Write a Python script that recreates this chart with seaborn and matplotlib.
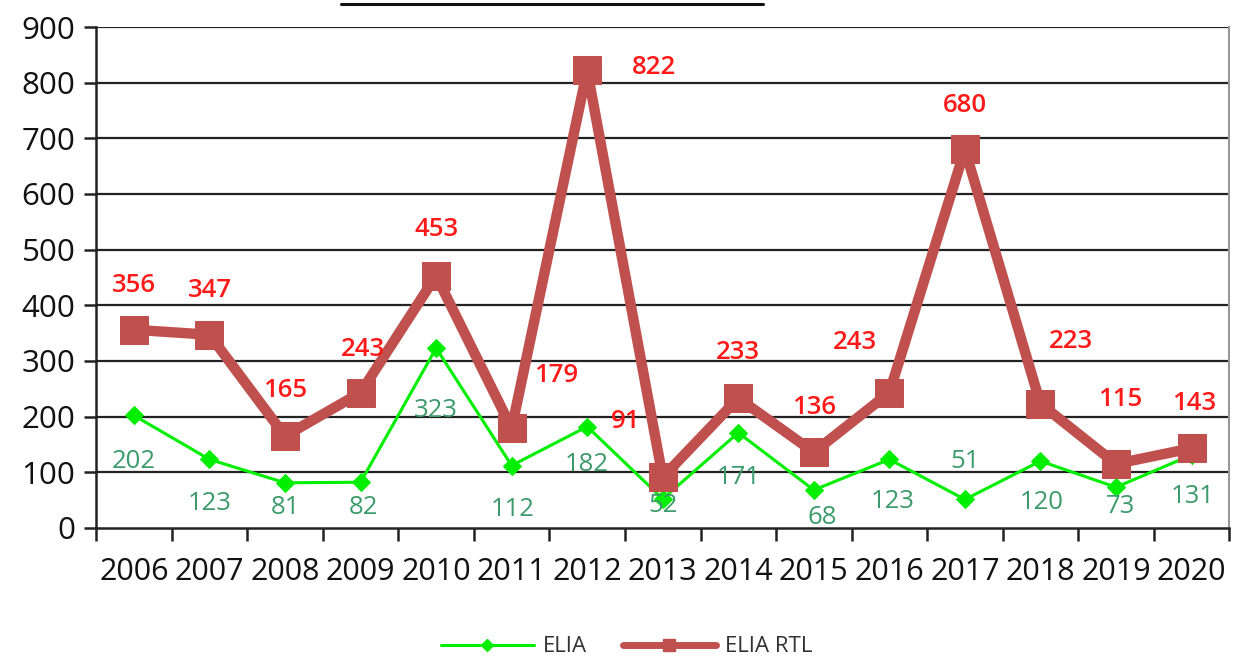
import matplotlib
matplotlib.use("Agg")
import matplotlib.pyplot as plt
import numpy as np
import pandas as pd
import seaborn as sns
from matplotlib.lines import Line2D

# ---------------------------------------------------------------------------
# Data
# ---------------------------------------------------------------------------
years = ["2006", "2007", "2008", "2009", "2010", "2011", "2012", "2013",
         "2014", "2015", "2016", "2017", "2018", "2019", "2020"]
elia = [202, 123, 81, 82, 323, 112, 182, 52, 171, 68, 123, 51, 120, 73, 131]
elia_rtl = [356, 347, 165, 243, 453, 179, 822, 91, 233, 136, 243, 680, 223, 115, 143]
y_ticks = [0, 100, 200, 300, 400, 500, 600, 700, 800, 900]

# label offsets in points (dx, dy) relative to each marker
rtl_offsets = [(0, 32), (0, 32), (0, 33), (2, 31), (0, 33), (32, 38), (48, 2),
               (-27, 40), (0, 33), (0, 32), (-25, 36), (0, 32), (22, 45),
               (3, 46), (2, 32)]
elia_offsets = [(0, -33), (0, -32), (0, -18), (2, -18), (0, -45), (1, -32),
                (0, -27), (0, -5), (0, -32), (6, -20), (2, -30), (0, 27),
                (1, -30), (3, -14), (1, -30)]

GREEN = "#00ee00"
RED_LINE = "#c0504d"
GREEN_TEXT = "#3c9a6c"

df = pd.DataFrame({"pos": np.arange(len(years)), "ELIA": elia, "ELIA RTL": elia_rtl})

sns.set_style("white")
plt.rcParams["font.family"] = ["Open Sans", "DejaVu Sans"]

fig = plt.figure(figsize=(12.33, 6.59), dpi=100)
ax = fig.add_axes([0.078, 0.199, 0.919, 0.760])

# gridlines
for v in y_ticks[1:]:
    ax.axhline(v, color="#222222", linewidth=1.6, zorder=0)

sns.lineplot(data=df, x="pos", y="ELIA", ax=ax, color=GREEN, linewidth=2.2,
             marker="D", markersize=9, markeredgecolor=GREEN,
             label="ELIA", zorder=3, legend=False)
sns.lineplot(data=df, x="pos", y="ELIA RTL", ax=ax, color=RED_LINE, linewidth=7.5,
             marker="s", markersize=19.5, markeredgecolor=RED_LINE,
             label="ELIA RTL", zorder=4, legend=False)

for i, v in enumerate(elia_rtl):
    ax.annotate(str(v), (i, v), xytext=rtl_offsets[i], textcoords="offset points",
                ha="center", va="center", color="#ff1a1a", fontsize=18.5,
                fontweight="semibold", zorder=6)
for i, v in enumerate(elia):
    ax.annotate(str(v), (i, v), xytext=elia_offsets[i], textcoords="offset points",
                ha="center", va="center", color=GREEN_TEXT, fontsize=18.5, zorder=6)

ax.set_xlim(-0.5, len(years) - 0.5)
ax.set_ylim(0, 900)
ax.set_yticks(y_ticks)
ax.set_yticklabels([str(t) for t in y_ticks], fontsize=22.5, color="#111111")
ax.set_xticks(np.arange(-0.5, len(years), 1.0))
ax.set_xticklabels([])
ax.set_xticks(np.arange(len(years)), minor=True)
ax.set_xticklabels(years, minor=True, fontsize=22, color="#111111")
ax.tick_params(axis="x", which="major", direction="out", length=9, width=1.8,
               color="#222222", bottom=True)
ax.tick_params(axis="x", which="minor", length=0, pad=21)
ax.tick_params(axis="y", direction="out", length=9, width=1.8, color="#222222",
               left=True, pad=6)
ax.set_xlabel("")
ax.set_ylabel("")

ax.spines["top"].set_visible(False)
ax.spines["left"].set_color("#222222")
ax.spines["left"].set_linewidth(1.8)
ax.spines["bottom"].set_color("#222222")
ax.spines["bottom"].set_linewidth(1.8)
ax.spines["right"].set_color("#999999")
ax.spines["right"].set_linewidth(1.5)

handles = [
    Line2D([], [], color=GREEN, linewidth=2.2, marker="D", markersize=6,
           markeredgecolor=GREEN),
    Line2D([], [], color=RED_LINE, linewidth=5, marker="s", markersize=9,
           markeredgecolor=RED_LINE),
]
leg = fig.legend(handles, ["ELIA", "ELIA RTL"], loc="center",
                 bbox_to_anchor=(0.508, 1 - 647 / 659), ncol=2, frameon=False,
                 fontsize=16, handlelength=4.2, columnspacing=1.6,
                 handletextpad=0.4)
for t in leg.get_texts():
    t.set_color("#333333")

# underline of the cropped title at the very top
fig.add_artist(Line2D([341 / 1233, 763 / 1233], [1 - 4 / 659, 1 - 4 / 659],
                      color="#111111", linewidth=2.2))

fig.savefig("out.png", dpi=100)
